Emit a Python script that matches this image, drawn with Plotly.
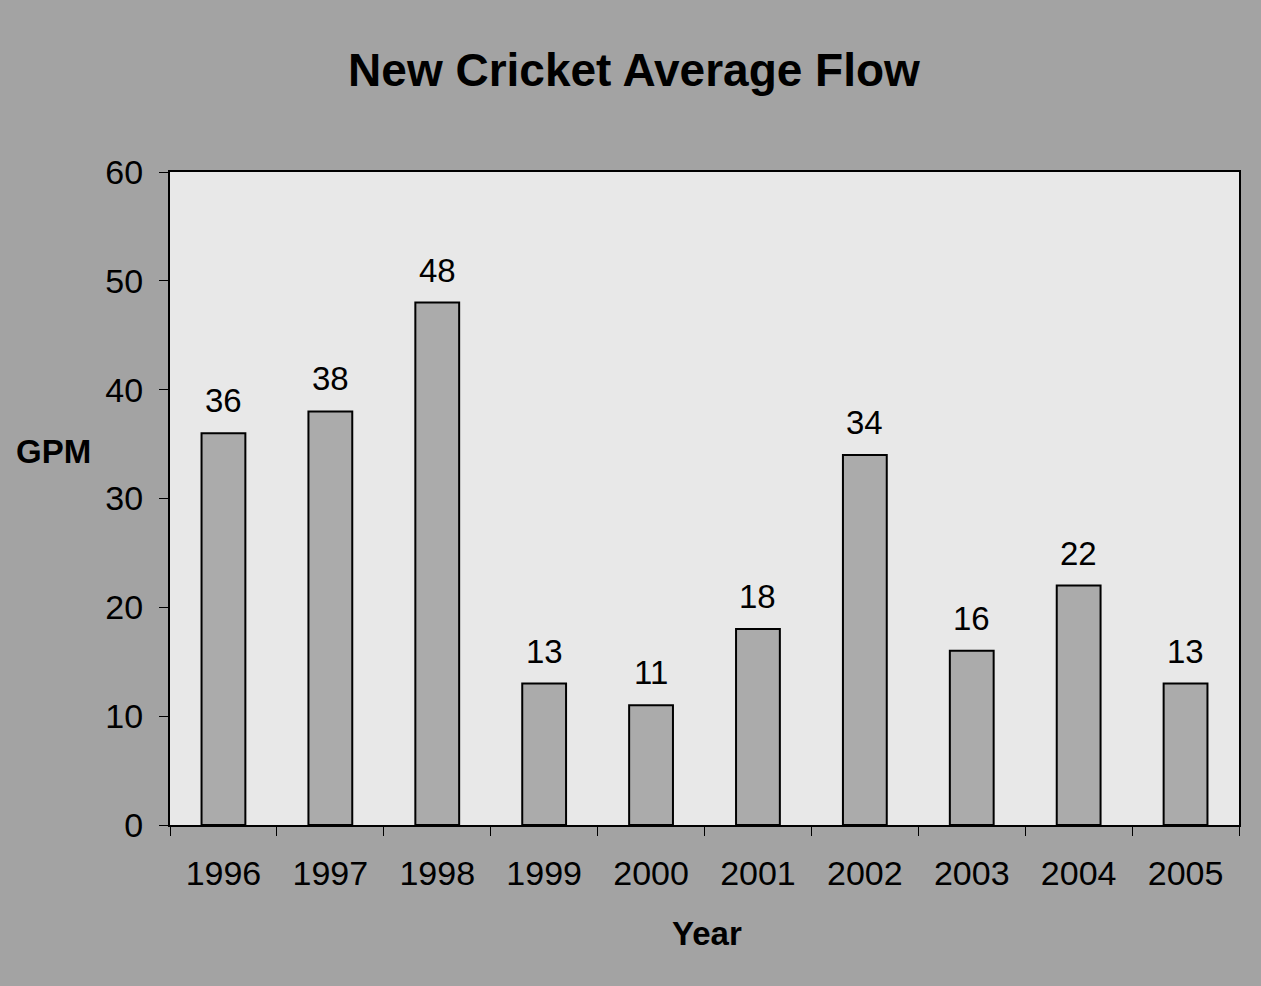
import plotly.graph_objects as go

# Average flow per year (gallons per minute)
years = ["1996", "1997", "1998", "1999", "2000", "2001", "2002", "2003", "2004", "2005"]
gpm = [36, 38, 48, 13, 11, 18, 34, 16, 22, 13]
y_ticks = [0, 10, 20, 30, 40, 50, 60]

FONT = "Liberation Sans, Arial, sans-serif"

pos = list(range(len(years)))
boundaries = [p - 0.5 for p in pos] + [pos[-1] + 0.5]

fig = go.Figure()
fig.add_trace(go.Bar(
    x=pos,
    y=gpm,
    marker=dict(color="#ababab", line=dict(color="black", width=2)),
    width=0.41,
    customdata=years,
    hovertemplate="%{customdata}: %{y}<extra></extra>",
))

# value labels above each bar
for p, v in zip(pos, gpm):
    fig.add_annotation(
        x=p, y=v, text=str(v), showarrow=False,
        yanchor="bottom", yshift=12,
        font=dict(family=FONT, size=33, color="black"),
    )

# axis titles (GPM is drawn horizontally)
fig.add_annotation(
    xref="paper", yref="paper", x=-0.146, y=0.572, text="<b>GPM</b>",
    showarrow=False, xanchor="left", yanchor="middle",
    font=dict(family=FONT, size=33, color="black"),
)
fig.add_annotation(
    xref="paper", yref="paper", x=0.502, y=-0.166, text="<b>Year</b>",
    showarrow=False, xanchor="center", yanchor="middle",
    font=dict(family=FONT, size=33, color="black"),
)

fig.update_layout(
    width=1261, height=986,
    margin=dict(l=170, r=22, t=172, b=161),
    paper_bgcolor="#a3a3a3",
    plot_bgcolor="#e8e8e8",
    showlegend=False,
    title=dict(
        text="<b>New Cricket Average Flow</b>",
        x=634 / 1261, xref="container", xanchor="center",
        y=1 - 70 / 986, yanchor="middle",
        font=dict(family=FONT, size=46, color="black"),
    ),
    xaxis=dict(
        range=[-0.5, len(years) - 0.5],
        tickvals=pos, ticktext=years, tickangle=0,
        showline=True, linecolor="black", linewidth=2, mirror=True,
        ticks="", showgrid=False, zeroline=False,
        minor=dict(tickvals=boundaries, ticks="outside", ticklen=9,
                   tickcolor="black", tickwidth=1, showgrid=False),
        tickfont=dict(family=FONT, size=34, color="black"),
        ticklabelstandoff=17,
    ),
    yaxis=dict(
        range=[0, 60],
        tickvals=y_ticks,
        showline=True, linecolor="black", linewidth=2, mirror=True,
        ticks="outside", ticklen=9, tickcolor="black", tickwidth=1,
        showgrid=False, zeroline=False,
        tickfont=dict(family=FONT, size=34, color="black"),
        ticklabelstandoff=9,
    ),
)

fig.write_html("out.html")
